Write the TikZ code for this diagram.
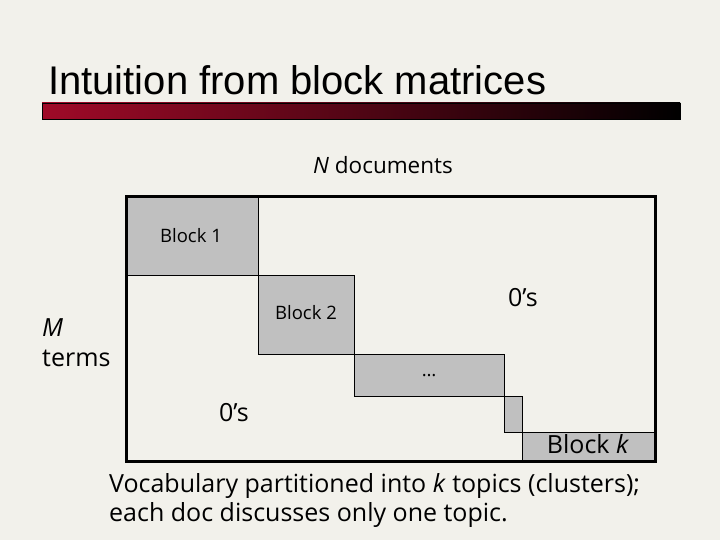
\documentclass[tikz,border=0pt]{standalone}
\usepackage{fontspec}
\setmainfont{Open Sans}
\newfontfamily\titlefont{Liberation Sans}
\definecolor{bg}{HTML}{F2F1EB}
\definecolor{blk}{HTML}{C0C0C0}
\definecolor{barred}{HTML}{A00A28}
\begin{document}
\begin{tikzpicture}[x=1pt,y=-1pt,
  blk/.style={draw=black,fill=blk,line width=1pt},
  lbl/.style={inner sep=0pt,font=\fontsize{18.5}{20}\selectfont},
  big/.style={inner sep=0pt,font=\fontsize{25}{28}\selectfont}]
\useasboundingbox (0,0) rectangle (720,540);
\fill[bg] (0,0) rectangle (720,540);
\node[anchor=west,inner sep=0pt,font=\titlefont\fontsize{40}{44}\selectfont] (title) at (48,80) {Intuition from block matrices};
\shade[left color=barred,right color=black] (42,103) rectangle (680,119);
\draw[line width=0.6pt] (42,103) rectangle (680,119);
\path[blk] (126,197) rectangle (258,275);
\path[blk] (258,275) rectangle (354,354);
\path[blk] (354,354) rectangle (504,396);
\path[blk] (504,396) rectangle (522,432);
\path[blk] (522,432) rectangle (655,461);
\draw[line width=3pt] (126,197) rectangle (655,461);
\node[lbl,font=\fontsize{22.5}{24}\selectfont] (n) at (383,165) {\textit{N} documents};
\node[lbl] (b1) at (191,236) {Block 1};
\node[lbl] (b2) at (306,313) {Block 2};
\node[big] (z1) at (523,298) {0’s};
\node[big] (z2) at (234,413) {0’s};
\node[lbl] (dots) at (429,376) {\ldots};
\node[big] (bk) at (588,444) {Block \textit{k}};
\node[big,anchor=west] (m) at (42,328) {\textit{M}};
\node[big,anchor=west] (t) at (42,358) {terms};
\node[big,anchor=west] (c1) at (109,486) {Vocabulary partitioned into \textit{k} topics (clusters);};
\node[big,anchor=west] (c2) at (109,515) {each doc discusses only one topic.};
\end{tikzpicture}
\end{document}
